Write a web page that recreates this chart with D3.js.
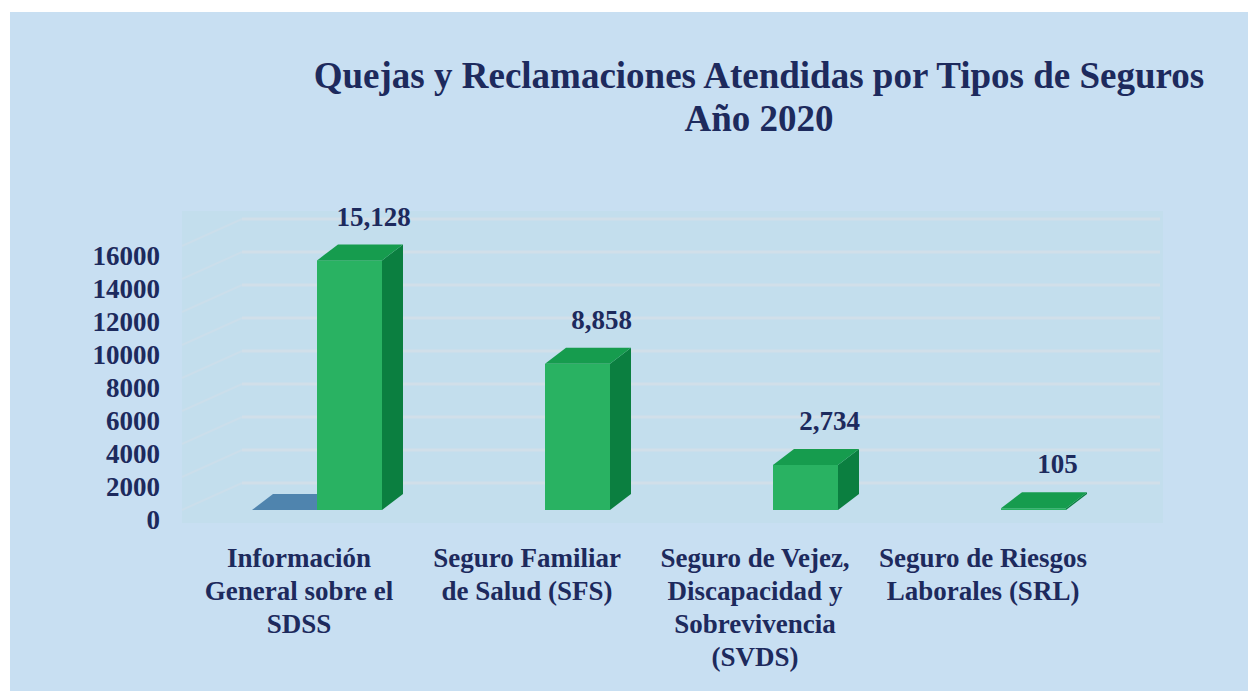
<!DOCTYPE html>
<html lang="es">
<head>
<meta charset="UTF-8">
<title>Quejas y Reclamaciones Atendidas por Tipos de Seguros</title>
<script src="https://d3js.org/d3.v7.min.js"></script>
<style>
  body { margin: 0; background: #fff; }
  svg { display: block; }
</style>
</head>
<body>
<script>
// datos
var categories = [
  "Información\nGeneral sobre el\nSDSS",
  "Seguro Familiar\nde Salud (SFS)",
  "Seguro de Vejez,\nDiscapacidad y\nSobrevivencia\n(SVDS)",
  "Seguro de Riesgos\nLaborales (SRL)"
];
var quejas = [15128, 8858, 2734, 105];      // serie verde
var serieAzul = [0, null, null, null];      // serie azul (solo aparece en la primera categoria)
var yTicks = [0, 2000, 4000, 6000, 8000, 10000, 12000, 14000, 16000];
var titulo = ["Quejas y Reclamaciones Atendidas por Tipos de Seguros", "Año 2020"];

var W = 1248, H = 691;
var barW = 65, dx = 21, dy = 16;       // profundidad de las barras
var wallDx = 60, wallDy = 27;           // profundidad de las paredes
var FONT = "'Times New Roman', serif";
var INK = "#1d2a5d";

var svg = d3.select("body").append("svg").attr("width", W).attr("height", H);

function txt(sel, size) {
  return sel.style("font-family", FONT).style("font-weight", "bold")
    .style("font-size", size + "px").attr("fill", INK);
}

// fondo
svg.append("rect").attr("x", 10).attr("y", 12).attr("width", W - 10).attr("height", H - 12)
  .attr("fill", "#c8dff2");

var x = d3.scaleBand().domain(categories).range([203, 1115]).padding(0);
var y = d3.scaleLinear().domain([0, 16000]).range([510, 246]);

// pared del fondo
svg.append("rect").attr("x", 182).attr("y", 211).attr("width", 981).attr("height", 312)
  .attr("fill", "#c3deed");

var grid = svg.append("g");
grid.selectAll("line.back").data(yTicks).enter().append("line")
  .attr("x1", 182 + wallDx).attr("x2", 1160)
  .attr("y1", function(d){ return y(d) - wallDy; })
  .attr("y2", function(d){ return y(d) - wallDy; })
  .attr("stroke", "#d5e0e9").attr("stroke-width", 3).attr("opacity", 0.8);
grid.selectAll("line.side").data(yTicks).enter().append("line")
  .attr("x1", 182).attr("x2", 182 + wallDx)
  .attr("y1", function(d){ return y(d); })
  .attr("y2", function(d){ return y(d) - wallDy; })
  .attr("stroke", "#d5e0e9").attr("stroke-width", 2).attr("opacity", 0.45);

// eje y
txt(svg.append("g").selectAll("text").data(yTicks).enter().append("text"), 27)
  .attr("x", 160).attr("y", function(d){ return y(d) + 13; })
  .attr("text-anchor", "end").attr("dominant-baseline", "middle")
  .text(function(d){ return d; });

function bar3d(g, x0, v, cFront, cTop, cSide) {
  var y0 = y(0), yt = y(v);
  if (y0 - yt > 0) {
    g.append("path").attr("fill", cSide)
      .attr("d", "M" + (x0 + barW) + "," + yt + "L" + (x0 + barW + dx) + "," + (yt - dy) +
        "L" + (x0 + barW + dx) + "," + (y0 - dy) + "L" + (x0 + barW) + "," + y0 + "Z");
    g.append("rect").attr("x", x0).attr("y", yt).attr("width", barW).attr("height", y0 - yt)
      .attr("fill", cFront);
  }
  g.append("path").attr("fill", cTop)
    .attr("d", "M" + x0 + "," + yt + "L" + (x0 + dx) + "," + (yt - dy) +
      "L" + (x0 + barW + dx) + "," + (yt - dy) + "L" + (x0 + barW) + "," + yt + "Z");
}

var bars = svg.append("g");
serieAzul.forEach(function(v, i){
  if (v === null) return;
  var cx = x(categories[i]) + x.bandwidth() / 2;
  bar3d(bars, cx - barW, v, "#4a80ab", "#4f84ae", "#3d6f96");
});
quejas.forEach(function(v, i){
  var cx = x(categories[i]) + x.bandwidth() / 2;
  bar3d(bars, cx, v, "#29b262", "#169c4e", "#0b7f40");
});

// etiquetas de valor
var fmt = d3.format(",");
txt(svg.append("g").selectAll("text").data(quejas).enter().append("text"), 27)
  .attr("x", function(d, i){ return x(categories[i]) + x.bandwidth() / 2 + barW / 2 + 24; })
  .attr("y", function(d){ return y(d) - 41; })
  .attr("text-anchor", "middle").attr("dominant-baseline", "middle")
  .text(function(d){ return fmt(d); });

// etiquetas de categoria
var catG = txt(svg.append("g").selectAll("text").data(categories).enter().append("text"), 27)
  .attr("text-anchor", "middle")
  .attr("transform", function(d){ return "translate(" + (x(d) + x.bandwidth() / 2 - 18) + ",567)"; });
catG.selectAll("tspan").data(function(d){ return d.split("\n"); }).enter().append("tspan")
  .attr("x", 0).attr("dy", function(d, i){ return i === 0 ? 0 : 33; })
  .text(function(d){ return d; });

// titulo
txt(svg.append("g").selectAll("text").data(titulo).enter().append("text"), 37)
  .attr("x", 759).attr("y", function(d, i){ return 88 + i * 43; })
  .attr("text-anchor", "middle")
  .text(function(d){ return d; });
</script>
</body>
</html>
